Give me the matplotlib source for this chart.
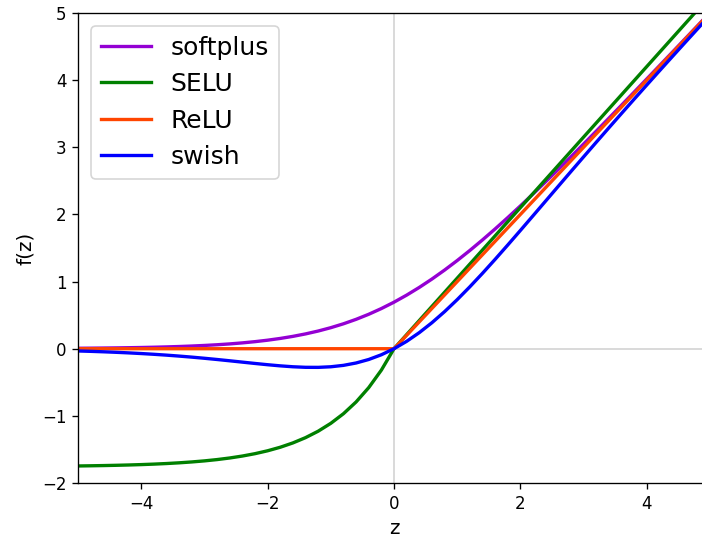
import matplotlib
matplotlib.use("Agg")
import matplotlib.pyplot as plt

# z values (step 0.2) and curve values
z = [-5.0, -4.8, -4.6, -4.4, -4.2, -4.0, -3.8, -3.6, -3.4, -3.2, -3.0,
     -2.8, -2.6, -2.4, -2.2, -2.0, -1.8, -1.6, -1.4, -1.2, -1.0,
     -0.8, -0.6, -0.4, -0.2, 0.0, 0.2, 0.4, 0.6, 0.8, 1.0,
     1.2, 1.4, 1.6, 1.8, 2.0, 2.2, 2.4, 2.6, 2.8, 3.0,
     3.2, 3.4, 3.6, 3.8, 4.0, 4.2, 4.4, 4.6, 4.8, 5.0]

softplus = [0.0067, 0.0082, 0.0100, 0.0122, 0.0149, 0.0181, 0.0221, 0.0270, 0.0328, 0.0400, 0.0486,
            0.0590, 0.0716, 0.0868, 0.1051, 0.1269, 0.1530, 0.1839, 0.2204, 0.2633, 0.3133,
            0.3711, 0.4375, 0.5130, 0.5981, 0.6931, 0.7981, 0.9130, 1.0375, 1.1711, 1.3133,
            1.4633, 1.6204, 1.7839, 1.9530, 2.1269, 2.3051, 2.4868, 2.6716, 2.8590, 3.0486,
            3.2400, 3.4328, 3.6270, 3.8221, 4.0181, 4.2149, 4.4122, 4.6100, 4.8082, 5.0067]

selu = [-1.7463, -1.7436, -1.7404, -1.7365, -1.7317, -1.7259, -1.7188, -1.7101, -1.6994, -1.6864, -1.6706,
        -1.6512, -1.6275, -1.5986, -1.5633, -1.5202, -1.4675, -1.4031, -1.3245, -1.2286, -1.1113,
        -0.9681, -0.7932, -0.5796, -0.3187, 0.0, 0.2101, 0.4203, 0.6304, 0.8406, 1.0507,
        1.2608, 1.4710, 1.6811, 1.8913, 2.1014, 2.3115, 2.5217, 2.7318, 2.9420, 3.1521,
        3.3622, 3.5724, 3.7825, 3.9927, 4.2028, 4.4129, 4.6231, 4.8332, 5.0434, 5.2535]

relu = [0.0] * 26 + [0.2, 0.4, 0.6, 0.8, 1.0, 1.2, 1.4, 1.6, 1.8, 2.0, 2.2, 2.4, 2.6, 2.8, 3.0,
                     3.2, 3.4, 3.6, 3.8, 4.0, 4.2, 4.4, 4.6, 4.8, 5.0]

swish = [-0.0335, -0.0392, -0.0458, -0.0534, -0.0620, -0.0719, -0.0831, -0.0957, -0.1098, -0.1253, -0.1423,
         -0.1605, -0.1798, -0.1997, -0.2195, -0.2384, -0.2553, -0.2688, -0.2770, -0.2778, -0.2689,
         -0.2480, -0.2126, -0.1605, -0.0900, 0.0, 0.1100, 0.2395, 0.3874, 0.5520, 0.7311,
         0.9222, 1.1230, 1.3312, 1.5447, 1.7616, 1.9805, 2.2003, 2.4202, 2.6395, 2.8577,
         3.0747, 3.2902, 3.5043, 3.7169, 3.9281, 4.1380, 4.3466, 4.5542, 4.7608, 4.9665]

fig = plt.figure(figsize=(5.85, 4.5), dpi=120)
# axes run a little past the right edge of the figure, as in the original crop
ax = fig.add_axes([78 / 702, 57 / 540, (710 - 78) / 702, (527 - 57) / 540])

ax.axhline(0, color="lightgrey", linewidth=1, zorder=0)
ax.axvline(0, color="lightgrey", linewidth=1, zorder=0)

ax.plot(z, softplus, color="darkviolet", linewidth=2, label="softplus")
ax.plot(z, selu, color="green", linewidth=2, label="SELU")
ax.plot(z, relu, color="orangered", linewidth=2, label="ReLU")
ax.plot(z, swish, color="blue", linewidth=2, label="swish")

ax.set_xlim(-5, 5)
ax.set_ylim(-2, 5)
ax.set_xlabel("z", fontsize=12)
ax.set_ylabel("f(z)", fontsize=12)
ax.legend(loc="upper left", fontsize=15)

fig.savefig("out.png", dpi=120)
